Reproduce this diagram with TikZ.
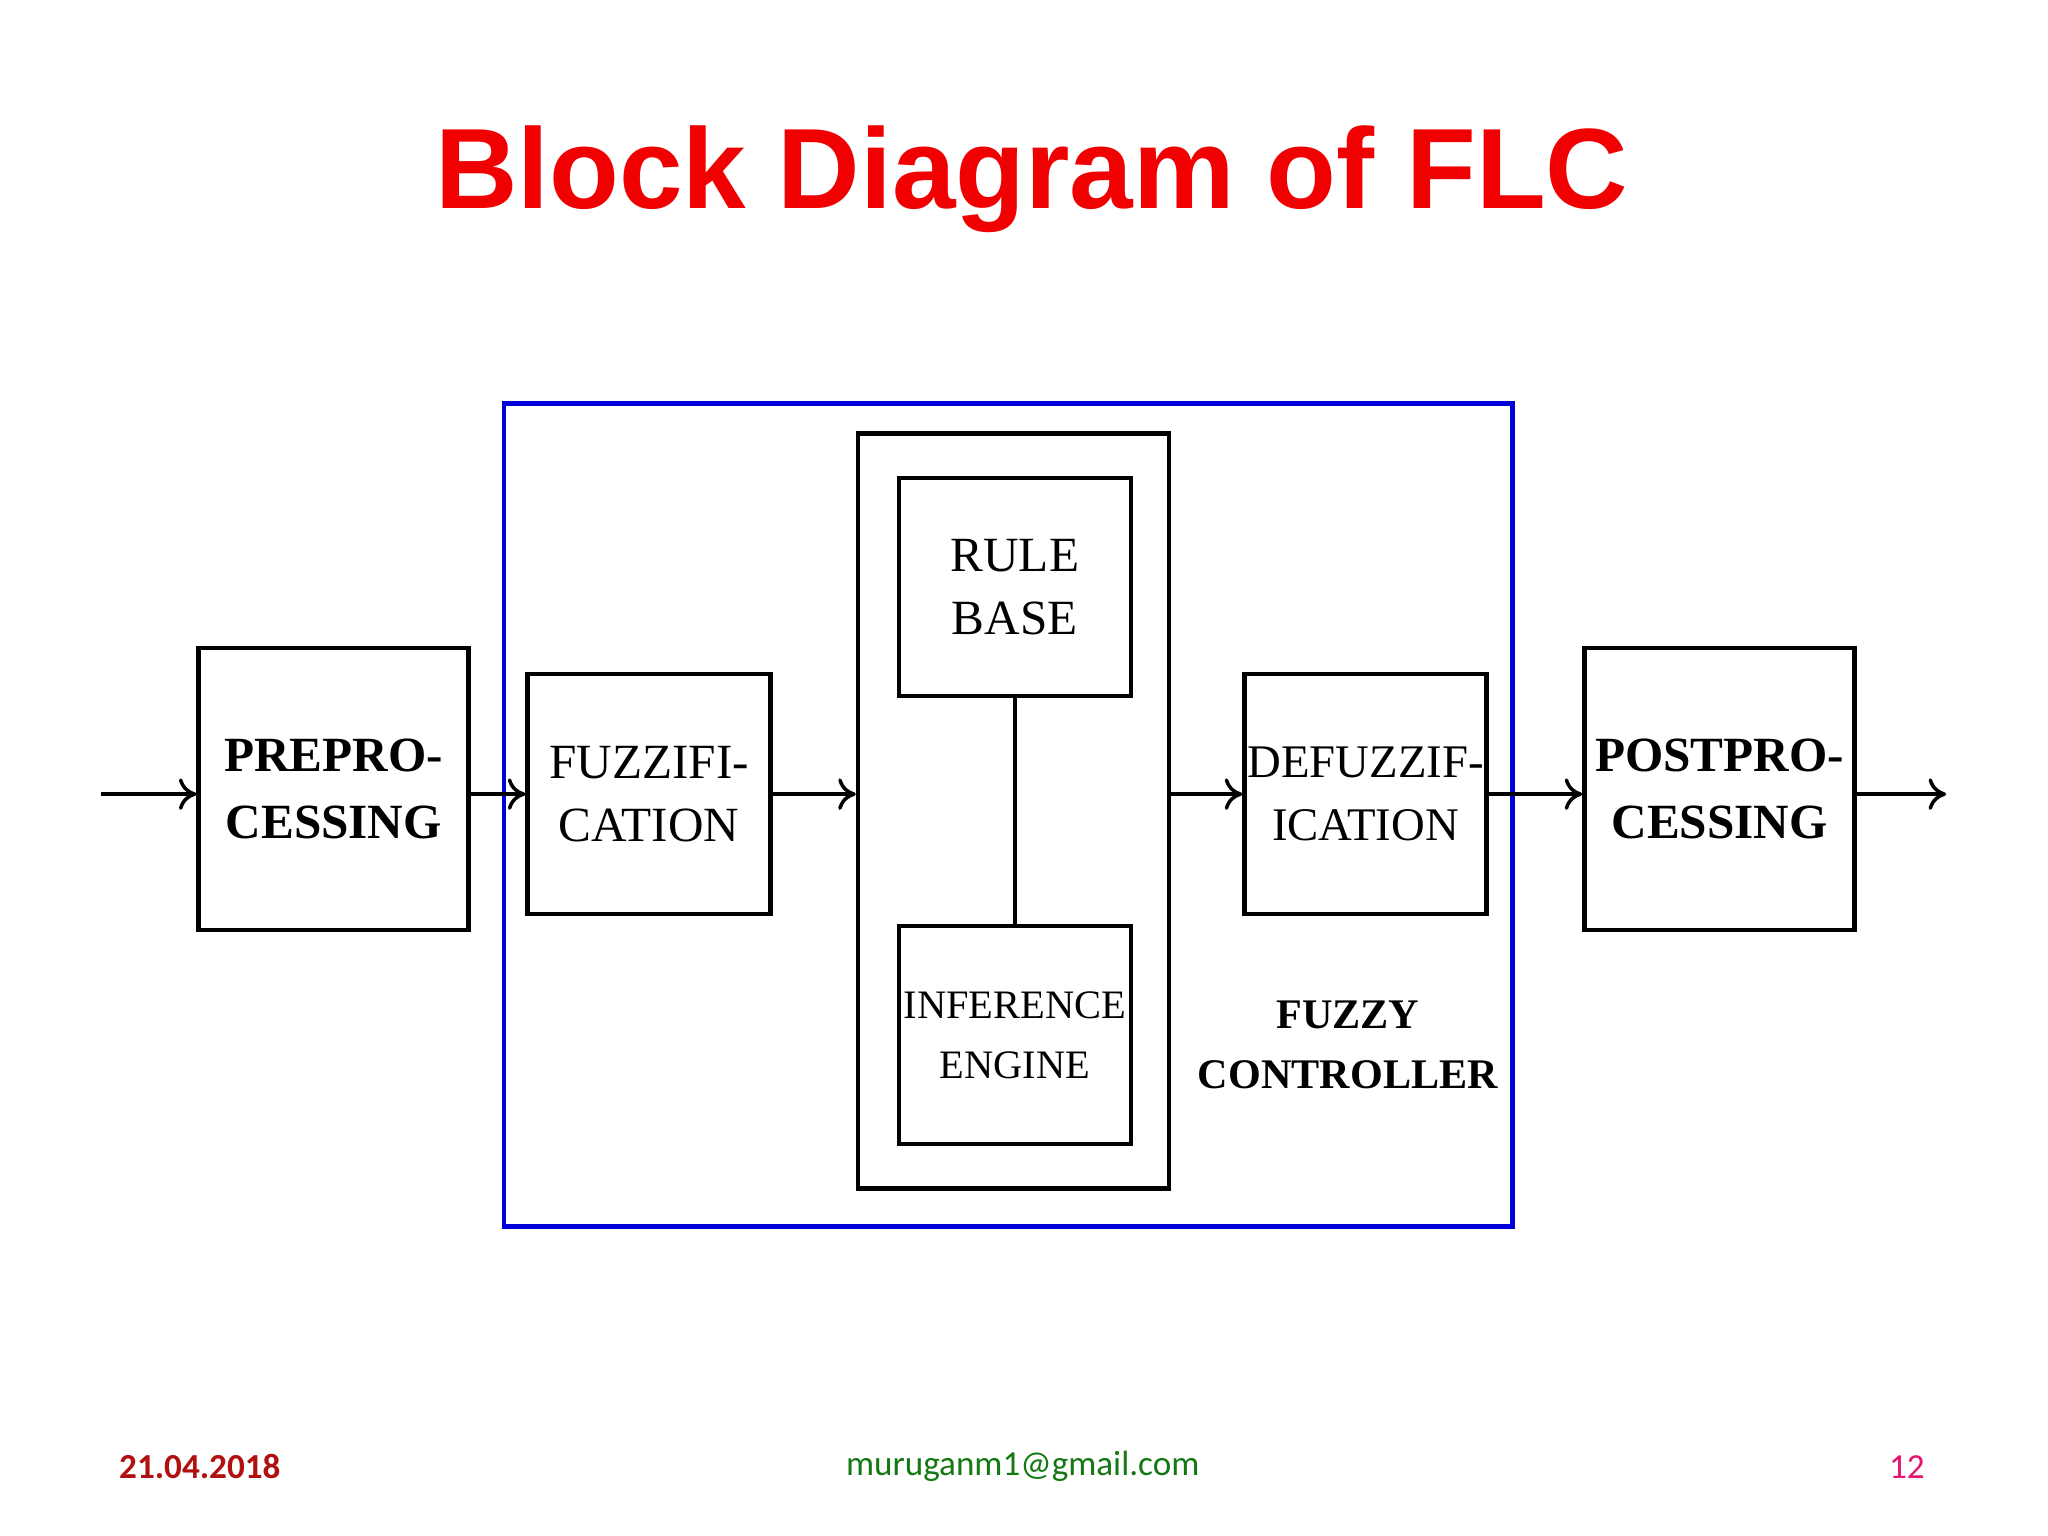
\documentclass[tikz,border=0pt]{standalone}
\usepackage{fontspec}
\setmainfont{Liberation Serif}
\newfontfamily\arialf{Liberation Sans}
\newfontfamily\carl{Carlito}
\usetikzlibrary{arrows.meta}
\definecolor{ttlred}{RGB}{240,0,0}
\definecolor{datered}{RGB}{176,16,16}
\definecolor{mailgreen}{RGB}{20,120,20}
\definecolor{numpink}{RGB}{230,20,110}
\begin{document}
\begin{tikzpicture}[x=0.013061cm,y=-0.013061cm,
  blk/.style={draw,line width=1.3pt,inner sep=0pt,align=center,font=\fontsize{14}{18}\selectfont},
  conn/.style={line width=1pt,-{To[length=5pt,width=9pt]}}]
\useasboundingbox[fill=white] (0,0) rectangle (1568,1176);
\node[font=\arialf\bfseries\fontsize{32.5}{38}\selectfont,text=ttlred] (title) at (790,137) {Block Diagram of FLC};
\draw[blue!85!black,line width=1.2pt] (386,309) rectangle (1158,939);
\node[blk,minimum width=2.70cm,minimum height=2.82cm,font=\bfseries\fontsize{14}{19}\selectfont] (pre) at (255.5,604) {PREPRO-\\CESSING};
\node[blk,minimum width=2.43cm,minimum height=2.40cm] (fuz) at (497,608) {FUZZIFI-\\CATION};
\node[draw,line width=1.3pt,minimum width=3.11cm,minimum height=7.55cm] (outer) at (776,621) {};
\node[blk,minimum width=2.32cm,minimum height=2.18cm] (rule) at (777,449.5) {RULE\\BASE};
\node[blk,minimum width=2.32cm,minimum height=2.18cm,font=\fontsize{11.5}{17}\selectfont] (inf) at (777,792.5) {INFERENCE\\ENGINE};
\draw[line width=1.3pt] (rule.south) -- (inf.north);
\node[blk,minimum width=2.42cm,minimum height=2.40cm,font=\fontsize{13.3}{18}\selectfont] (def) at (1045.5,608) {DEFUZZIF-\\ICATION};
\node[blk,minimum width=2.70cm,minimum height=2.82cm,font=\bfseries\fontsize{14}{19}\selectfont] (post) at (1316.5,604) {POSTPRO-\\CESSING};
\coordinate (in) at (77,608);
\coordinate (out) at (1490,608);
\draw[conn] (in) -- (in -| pre.west);
\draw[conn] (in -| pre.east) -- (in -| fuz.west);
\draw[conn] (in -| fuz.east) -- (in -| outer.west);
\draw[conn] (in -| outer.east) -- (in -| def.west);
\draw[conn] (in -| def.east) -- (in -| post.west);
\draw[conn] (in -| post.east) -- (out);
\node[align=center,font=\bfseries\fontsize{12}{17}\selectfont] (fc) at (1032,800) {FUZZY\\CONTROLLER};
\node[font=\carl\bfseries\fontsize{10}{13}\selectfont,text=datered] (date) at (153,1123) {21.04.2018};
\node[font=\carl\fontsize{10}{13}\selectfont,text=mailgreen] (mail) at (783,1123) {muruganm1@gmail.com};
\node[font=\carl\fontsize{10}{13}\selectfont,text=numpink] (num) at (1460,1123) {12};
\end{tikzpicture}
\end{document}
